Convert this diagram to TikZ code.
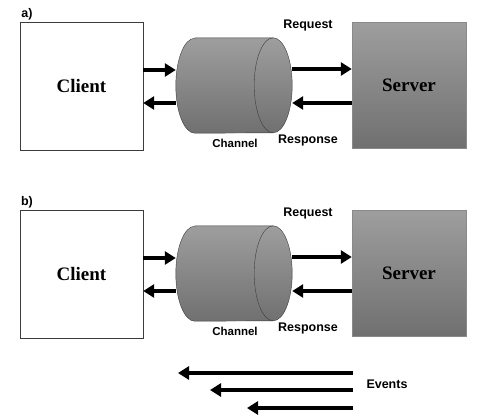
\documentclass[tikz,border=0pt]{standalone}
\usepackage{fontspec}
\setmainfont{Liberation Serif}
\setsansfont{Liberation Sans}
\usetikzlibrary{shapes,arrows.meta,positioning,calc}
\definecolor{boxtop}{RGB}{158,158,158}
\definecolor{boxbot}{RGB}{112,112,112}
\definecolor{edge}{RGB}{60,60,60}

\begin{document}
\begin{tikzpicture}[x=1pt,y=-1pt,
  flow/.style={line width=4pt, -{Triangle[length=11pt,width=13pt]}},
  lbl/.style={font=\sffamily\bfseries\fontsize{12.5}{14}\selectfont, inner sep=0pt},
  big/.style={font=\bfseries\fontsize{19}{21}\selectfont},
  cylend/.style={x radius=19, y radius=47.5}]
\useasboundingbox (0,0) rectangle (484,416);
% the two panels a) and b)
\foreach \dy/\p in {0/a,188/b} {
\begin{scope}[shift={(0,\dy)}]
\node[lbl] (tag\p) at (27,14) {\p)};
\node[rectangle, draw=edge, fill=white, minimum width=123pt, minimum height=128pt, big] (client\p) at (81.5,86) {Client};
\node[rectangle, minimum width=116pt, minimum height=95pt, inner sep=0pt] (chan\p) at (234,85.5) {};
\shade[draw=edge, top color=boxtop, bottom color=boxbot]
  ([xshift=19pt]chan\p.north west) -- ([xshift=-19pt]chan\p.north east)
  arc[start angle=-90, end angle=90, cylend]
  -- ([xshift=19pt]chan\p.south west)
  arc[start angle=90, end angle=270, cylend] -- cycle;
\draw[edge] ([xshift=-19pt]chan\p.north east) arc[start angle=270, end angle=90, cylend];
\node[rectangle, draw=edge!60, top color=boxtop, bottom color=boxbot, minimum width=114pt, minimum height=126pt, big] (server\p) at (409,85) {Server};
\node[lbl] (req\p) at (308,25) {Request};
\node[lbl] (resp\p) at (308,140) {Response};
\node[lbl, font=\sffamily\bfseries\fontsize{11.5}{13}\selectfont] (chlbl\p) at (235,143) {Channel};
\draw[flow] ([yshift=16pt]client\p.east) -- ([yshift=16pt]client\p.east -| chan\p.west);
\draw[flow] ([yshift=-17pt]client\p.east -| chan\p.west) -- ([yshift=-17pt]client\p.east);
\draw[flow] ([yshift=16pt]server\p.west -| chan\p.east) -- ([yshift=16pt]server\p.west);
\draw[flow] ([yshift=-18pt]server\p.west) -- ([yshift=-18pt]server\p.west -| chan\p.east);
\end{scope}
}
% events
\foreach \y/\x [count=\i] in {373/178,390/210,408/247} {
  \coordinate (evs\i) at (353,\y);
  \coordinate (eve\i) at (\x,\y);
  \draw[flow] (evs\i) -- (eve\i);
}
\node[lbl] (events) at (387,384) {Events};
\end{tikzpicture}
\end{document}
